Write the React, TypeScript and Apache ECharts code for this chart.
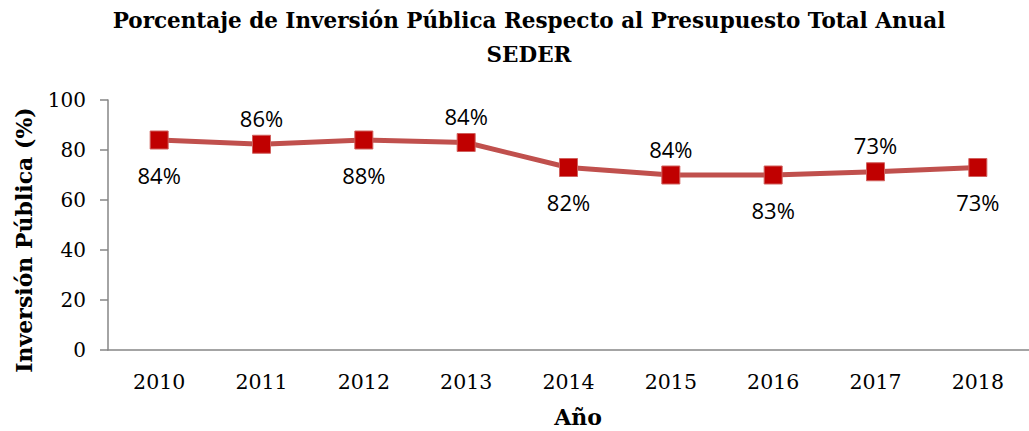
import React, { useEffect, useRef } from "react";
import * as echarts from "echarts";

const years = ["2010", "2011", "2012", "2013", "2014", "2015", "2016", "2017", "2018"];
const values = [84, 82.3, 84, 83, 73, 70, 70, 71.3, 73];
const labelTexts = ["84%", "86%", "88%", "84%", "82%", "84%", "83%", "73%", "73%"];
const labelSides = ["bottom", "top", "bottom", "top", "bottom", "top", "bottom", "top", "bottom"];
const yTicks = [0, 20, 40, 60, 80, 100];

export default function App() {
  const ref = useRef<HTMLDivElement>(null);
  useEffect(() => {
    if (!ref.current) return;
    const chart = echarts.init(ref.current, null, { renderer: "svg" });
    const serif = "DejaVu Serif";
    chart.setOption({
      animation: false,
      backgroundColor: "#ffffff",
      title: {
        text: "Porcentaje de Inversión Pública Respecto al Presupuesto Total Anual\nSEDER",
        left: 529,
        top: 3,
        padding: 0,
        textAlign: "center",
        textStyle: {
          fontFamily: serif,
          fontWeight: "bold",
          fontSize: 21.5,
          lineHeight: 34,
          color: "#000",
        },
      },
      grid: { left: 108, top: 100, height: 250, width: 941 },
      xAxis: {
        type: "category",
        data: years,
        boundaryGap: true,
        axisLine: { lineStyle: { color: "#868686", width: 1.5 } },
        axisTick: { show: false },
        axisLabel: { fontFamily: serif, fontSize: 20.5, color: "#000", margin: 21 },
        splitLine: { show: false },
      },
      yAxis: {
        type: "value",
        min: yTicks[0],
        max: yTicks[yTicks.length - 1],
        interval: yTicks[1] - yTicks[0],
        axisLine: { show: true, lineStyle: { color: "#868686", width: 1.5 } },
        axisTick: { show: true, inside: false, length: 8, lineStyle: { color: "#868686", width: 1.5 } },
        axisLabel: { fontFamily: serif, fontSize: 20, color: "#000", margin: 22 },
        splitLine: { show: false },
      },
      graphic: [
        {
          type: "text",
          x: 24,
          y: 240,
          rotation: Math.PI / 2,
          style: {
            text: "Inversión Pública (%)",
            fontFamily: serif,
            fontWeight: "bold",
            fontSize: 22,
            fill: "#000",
            align: "center",
            verticalAlign: "middle",
          },
        },
        {
          type: "text",
          x: 578,
          y: 417,
          style: {
            text: "Año",
            fontFamily: serif,
            fontWeight: "bold",
            fontSize: 22,
            fill: "#000",
            align: "center",
            verticalAlign: "middle",
          },
        },
      ],
      series: [
        {
          type: "line",
          data: values.map((v, i) => ({
            value: v,
            label: {
              show: true,
              position: labelSides[i],
              distance: labelSides[i] === "top" ? 6 : 14,
              formatter: labelTexts[i],
            },
          })),
          lineStyle: { color: "#C0504D", width: 5 },
          symbol: "rect",
          symbolSize: 18,
          itemStyle: { color: "#C00000", borderColor: "#D0605D", borderWidth: 1 },
          label: {
            fontFamily: "Open Sans",
            fontSize: 22,
            color: "#000",
          },
        },
      ],
    });
    return () => chart.dispose();
  }, []);
  return (
    <div
      ref={ref}
      style={{ position: "fixed", left: 0, top: 0, width: 1029, height: 431 }}
    />
  );
}
